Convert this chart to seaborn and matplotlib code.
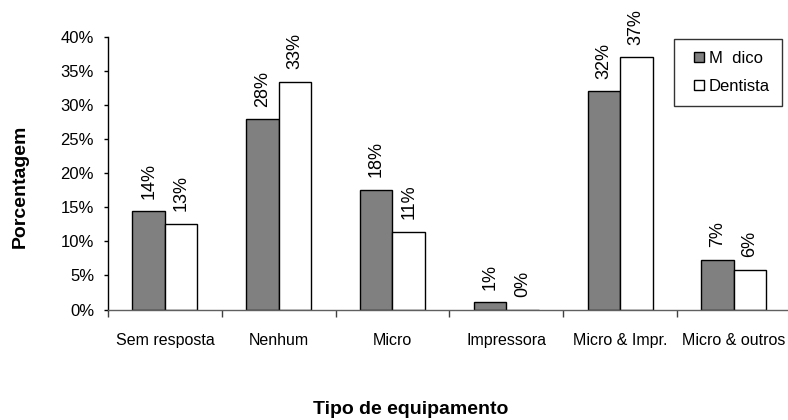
import matplotlib
matplotlib.use("Agg")
import matplotlib.pyplot as plt
from matplotlib.patches import Patch, Rectangle
from matplotlib.legend_handler import HandlerPatch
from matplotlib.ticker import FixedLocator, PercentFormatter
import pandas as pd
import seaborn as sns

# Equipment categories and share of respondents (%) per profession
categorias = ["Sem resposta", "Nenhum", "Micro", "Impressora",
              "Micro & Impr.", "Micro & outros"]
medico = [14.4, 27.9, 17.6, 1.1, 32.0, 7.3]
dentista = [12.6, 33.4, 11.4, 0.0, 37.0, 5.8]
series = ["M  dico", "Dentista"]
yticks = [0, 5, 10, 15, 20, 25, 30, 35, 40]

df = pd.DataFrame({
    "Tipo": categorias * 2,
    "Grupo": [series[0]] * len(categorias) + [series[1]] * len(categorias),
    "Valor": medico + dentista,
})

sns.set_theme(style="white")
plt.rcParams["font.family"] = ["Liberation Sans", "DejaVu Sans"]
for key in ["text.color", "axes.labelcolor", "xtick.color", "ytick.color"]:
    plt.rcParams[key] = "black"

fig = plt.figure(figsize=(7.88, 4.20), dpi=100)
ax = fig.add_axes([108 / 788, 110.5 / 420, 6 * 113.8 / 788, 272.5 / 420])

cores = {series[0]: "#808080", series[1]: "#ffffff"}
sns.barplot(data=df, x="Tipo", y="Valor", hue="Grupo", order=categorias,
            hue_order=series, palette=cores, width=0.57, dodge=True,
            edgecolor="black", linewidth=1.0, saturation=1.0,
            legend=False, ax=ax)

for cont, vals in zip(ax.containers, [medico, dentista]):
    ax.bar_label(cont, labels=[f"{v:.0f}%" for v in vals], rotation=90,
                 padding=9, fontsize=13, color="black")

ax.set_xlim(-0.5, len(categorias) - 0.5)
ax.set_ylim(0, 40)
ax.yaxis.set_major_locator(FixedLocator(yticks))
ax.yaxis.set_major_formatter(PercentFormatter(decimals=0))
ax.tick_params(axis="y", which="major", left=True, length=3, width=1,
               color="black", labelsize=12, pad=7)

# category labels centred, tick marks on category boundaries
ax.set_xticks(range(len(categorias)))
ax.set_xticklabels(categorias, fontsize=11.5)
ax.tick_params(axis="x", which="major", length=0, pad=17)
ax.set_xticks([i - 0.5 for i in range(len(categorias) + 1)], minor=True)
ax.tick_params(axis="x", which="minor", bottom=True, length=5, width=1,
               color="#404040")

for s in ["top", "right"]:
    ax.spines[s].set_visible(False)
ax.spines["left"].set_color("black")
ax.spines["left"].set_linewidth(1)
ax.spines["bottom"].set_color("#606060")
ax.spines["bottom"].set_linewidth(1)

ax.set_xlabel("")
ax.set_ylabel("")
fig.text(20.5 / 788, 1 - 186.5 / 420, "Porcentagem", rotation=90,
         ha="center", va="center", fontsize=14, fontweight="bold")
fig.text(410.5 / 788, 1 - 409 / 420, "Tipo de equipamento", ha="center",
         va="center", fontsize=14, fontweight="bold")


def small_square(legend, orig_handle, xdescent, ydescent, width, height,
                 fontsize):
    side = 0.6 * fontsize
    return Rectangle((-xdescent + width - side,
                      -ydescent + (height - side) / 2), side, side)


handles = [Patch(facecolor=cores[s], edgecolor="black", linewidth=1.0)
           for s in series]
leg = fig.legend(handles, series, loc="upper left",
                 bbox_to_anchor=(674 / 788, 1 - 39 / 420), fontsize=12,
                 frameon=True, fancybox=False, shadow=False,
                 handler_map={Patch: HandlerPatch(patch_func=small_square)},
                 handlelength=1.1, handleheight=0.7, handletextpad=0.3,
                 borderpad=0.7, labelspacing=0.8, borderaxespad=0)
leg.get_frame().set_edgecolor("black")
leg.get_frame().set_linewidth(1)

fig.savefig("out.png", dpi=100)
